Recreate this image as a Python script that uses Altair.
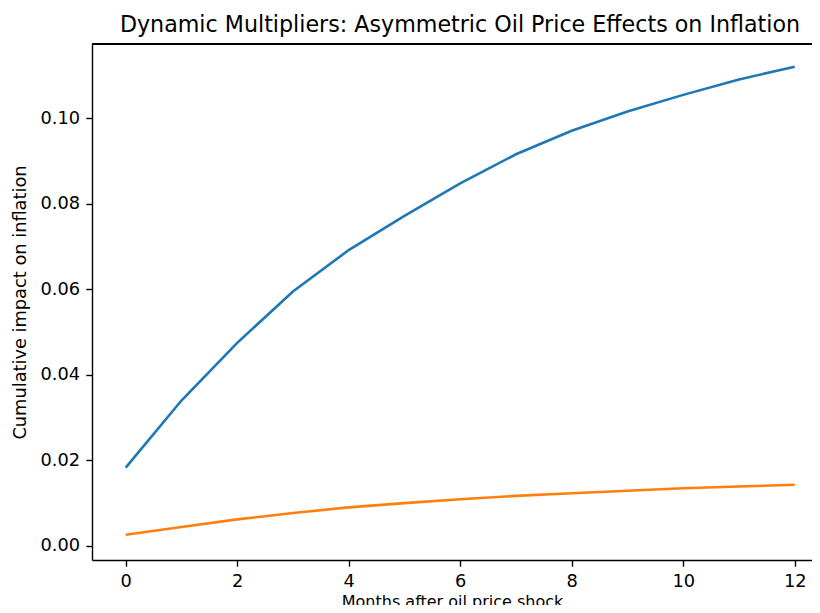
import altair as alt
import pandas as pd

months = list(range(13))
positive_shock = [0.0183, 0.0340, 0.0475, 0.0595, 0.0692, 0.0772, 0.0848, 0.0916, 0.0971, 0.1016, 0.1055, 0.1091, 0.1121]
negative_shock = [0.0026, 0.0044, 0.0062, 0.0077, 0.0090, 0.0100, 0.0109, 0.0117, 0.0123, 0.0129, 0.0135, 0.0139, 0.0143]
series_names = ["Positive oil shock", "Negative oil shock"]
series_colors = ["#1f77b4", "#ff7f0e"]
x_ticks = [0, 2, 4, 6, 8, 10, 12]
y_ticks = [0.0, 0.02, 0.04, 0.06, 0.08, 0.10]

rows = []
for m, v in zip(months, positive_shock):
    rows.append({"month": m, "impact": v, "series": series_names[0]})
for m, v in zip(months, negative_shock):
    rows.append({"month": m, "impact": v, "series": series_names[1]})
df = pd.DataFrame(rows)

FONT = "DejaVu Sans"

lines = alt.Chart(df).mark_line(strokeWidth=2.6, clip=True).encode(
    x=alt.X("month:Q",
            scale=alt.Scale(domain=[-0.6045, 12.31], nice=False, zero=False),
            axis=alt.Axis(values=x_ticks, title="Months after oil price shock",
                          grid=False, format="d", labelFlush=False,
                          titlePadding=3, titleFontSize=16)),
    y=alt.Y("impact:Q",
            scale=alt.Scale(domain=[-0.0033, 0.1174], nice=False, zero=False),
            axis=alt.Axis(values=y_ticks, title="Cumulative impact on inflation",
                          grid=False, format=".2f", labelFlush=False,
                          titlePadding=11)),
    color=alt.Color("series:N", scale=alt.Scale(domain=series_names, range=series_colors),
                    legend=None),
    detail="series:N",
)

top_spine = alt.Chart(df).mark_rule(color="black", strokeWidth=1.4).encode(
    y=alt.value(0)
)

chart = alt.layer(lines, top_spine).properties(
    width=720,
    height=516,
    autosize=alt.AutoSizeParams(type="none"),
    padding={"left": 84, "top": 36, "right": 0, "bottom": 45},
    title=alt.Title("Dynamic Multipliers: Asymmetric Oil Price Effects on Inflation",
                    anchor="middle", frame="group", dx=8, offset=7,
                    fontSize=22.2, font=FONT, fontWeight="normal", color="black"),
).configure_view(stroke=None).configure_axis(
    labelFont=FONT, labelFontSize=17.8, labelColor="black",
    titleFont=FONT, titleFontSize=17.8, titleFontWeight="normal", titleColor="black",
    domainColor="black", domainWidth=1.4,
    tickColor="black", tickWidth=1.4, tickSize=6.2, labelPadding=6.2,
)

chart.save("out.html", embed_options={"renderer": "svg", "actions": False})
